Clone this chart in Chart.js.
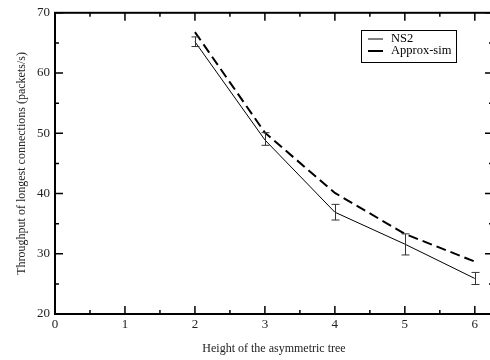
<!DOCTYPE html>
<html>
<head>
<meta charset="utf-8">
<script src="https://cdn.jsdelivr.net/npm/chart.js@4"></script>
<style>
  html, body { margin: 0; padding: 0; background: #fff; overflow: hidden; }
  #wrap { width: 500px; height: 360px; }
</style>
</head>
<body>
<div id="wrap"><canvas id="chart" width="500" height="360"></canvas></div>
<script>
// data
const heights = [2, 3, 4, 5, 6];
const ns2 = [65.2, 48.9, 36.9, 31.6, 25.9];
const ns2Low = [64.4, 48.0, 35.6, 29.8, 24.9];
const ns2High = [66.0, 50.1, 38.2, 33.3, 26.9];
const approxSim = [66.8, 50.1, 40.1, 33.3, 28.7];
const xTicks = [0, 1, 2, 3, 4, 5, 6];
const yTicks = [20, 30, 40, 50, 60, 70];

const serif = '"Liberation Serif", "DejaVu Serif", serif';

// error bars for NS2
const errorBars = {
    id: 'errorBars',
    afterDatasetsDraw(chart) {
        const { ctx, scales: { x, y } } = chart;
        ctx.save();
        ctx.strokeStyle = '#333';
        ctx.lineWidth = 1;
        heights.forEach((h, i) => {
            const px = Math.round(x.getPixelForValue(h)) + 0.5;
            const lo = y.getPixelForValue(ns2Low[i]);
            const hi = y.getPixelForValue(ns2High[i]);
            ctx.beginPath();
            ctx.moveTo(px, lo); ctx.lineTo(px, hi);
            ctx.moveTo(px - 4, lo); ctx.lineTo(px + 4, lo);
            ctx.moveTo(px - 4, hi); ctx.lineTo(px + 4, hi);
            ctx.stroke();
        });
        ctx.restore();
    }
};

// frame with inward ticks on all four sides, plus boxed legend
const frame = {
    id: 'frame',
    afterDraw(chart) {
        const { ctx, chartArea: a, scales: { x, y } } = chart;
        ctx.save();
        ctx.strokeStyle = '#000';
        ctx.lineWidth = 2;
        ctx.strokeRect(a.left, a.top, a.right - a.left, a.bottom - a.top);
        ctx.lineWidth = 1.5;
        ctx.beginPath();
        for (let v = 0; v <= 6.25; v += 0.5) {
            const len = Number.isInteger(v) ? 8 : 4;
            const px = x.getPixelForValue(v);
            ctx.moveTo(px, a.bottom); ctx.lineTo(px, a.bottom - len);
            ctx.moveTo(px, a.top); ctx.lineTo(px, a.top + len);
        }
        for (let v = 20; v <= 70; v += 5) {
            const len = v % 10 === 0 ? 8 : 4;
            const py = y.getPixelForValue(v);
            ctx.moveTo(a.left, py); ctx.lineTo(a.left + len, py);
            ctx.moveTo(a.right, py); ctx.lineTo(a.right - len, py);
        }
        ctx.stroke();

        // legend box
        const bx = 361, by = 30, bw = 95, bh = 32;
        ctx.lineWidth = 1;
        ctx.strokeRect(bx + 0.5, by + 0.5, bw, bh);
        ctx.font = '12.5px ' + serif;
        ctx.fillStyle = '#000';
        ctx.textBaseline = 'middle';
        chart.data.datasets.forEach((ds, i) => {
            const ly = by + 9 + i * 12;
            ctx.beginPath();
            ctx.lineWidth = ds.borderWidth;
            ctx.setLineDash([]);
            ctx.moveTo(368, ly); ctx.lineTo(383, ly);
            ctx.stroke();
            ctx.fillText(ds.label, 391, ly);
        });
        ctx.restore();
    }
};

new Chart(document.getElementById('chart'), {
    type: 'line',
    data: {
        datasets: [{
            label: 'NS2',
            data: heights.map((h, i) => ({ x: h, y: ns2[i] })),
            borderColor: '#000',
            borderWidth: 1,
            pointRadius: 0,
            tension: 0
        }, {
            label: 'Approx-sim',
            data: heights.map((h, i) => ({ x: h, y: approxSim[i] })),
            borderColor: '#000',
            borderWidth: 2,
            borderDash: [10, 5],
            pointRadius: 0,
            tension: 0
        }]
    },
    options: {
        responsive: false,
        animation: false,
        layout: { padding: { top: 8, right: 7, left: 0, bottom: 0 } },
        plugins: { legend: { display: false }, tooltip: { enabled: false } },
        scales: {
            x: {
                type: 'linear',
                min: 0,
                max: 6.26,
                afterBuildTicks: s => { s.ticks = xTicks.map(v => ({ value: v })); },
                afterFit: s => { s.height = 46; },
                grid: { display: false, drawTicks: false },
                border: { display: false },
                ticks: { color: '#222', font: { family: serif, size: 13 }, padding: 3 },
                title: {
                    display: true,
                    text: 'Height of the asymmetric tree',
                    color: '#222',
                    font: { family: serif, size: 12 },
                    padding: { top: 10 }
                }
            },
            y: {
                min: 20,
                max: 70,
                afterBuildTicks: s => { s.ticks = yTicks.map(v => ({ value: v })); },
                afterFit: s => { s.width = 55; },
                grid: { display: false, drawTicks: false },
                border: { display: false },
                ticks: { color: '#222', font: { family: serif, size: 13 }, padding: 5 },
                title: {
                    display: true,
                    text: 'Throughput of longest connections (packets/s)',
                    color: '#222',
                    font: { family: serif, size: 12 },
                    padding: { top: 15, bottom: 0 }
                }
            }
        }
    },
    plugins: [errorBars, frame]
});
</script>
</body>
</html>
